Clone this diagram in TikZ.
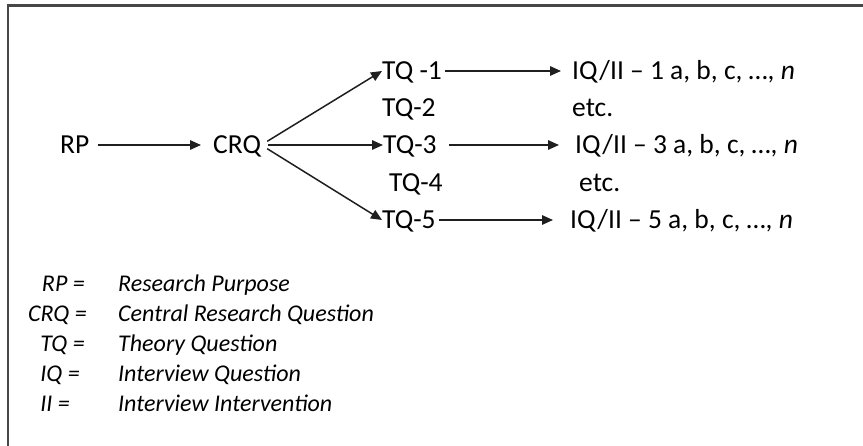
\documentclass[tikz,border=0pt]{standalone}
\usepackage{fontspec}
\setmainfont{Carlito}
\usetikzlibrary{arrows.meta}

\begin{document}
\begin{tikzpicture}[x=1pt,y=-1pt,
  lbl/.style={inner sep=0pt, text height=18pt, text depth=0pt, anchor=base west,
              font=\fontsize{27.5}{33}\selectfont},
  keyabbr/.style={inner sep=0pt, anchor=base east, font=\fontsize{24}{29}\selectfont\itshape},
  keydesc/.style={inner sep=0pt, anchor=base west, font=\fontsize{24}{29}\selectfont\itshape},
  arr/.style={draw=black!88, line width=1.5pt, -{Triangle[length=11pt,width=9.5pt]}},
  frame/.style={draw=black!72, line width=2.5pt}
]
\useasboundingbox (0,0) rectangle (863,446);

% partial frame
\draw[frame] (8,446) -- (8,5.5) -- (863,5.5);

% main chain
\node[lbl] (rp)  at (60,154)  {RP};
\node[lbl] (crq) at (213,154) {CRQ};

\node[lbl] (tq1) at (382,80)  {TQ -1};
\node[lbl] (tq2) at (382,117) {TQ-2};
\node[lbl] (tq3) at (383,154) {TQ-3};
\node[lbl] (tq4) at (389,192) {TQ-4};
\node[lbl] (tq5) at (382,229) {TQ-5};

\node[lbl] (iq1)  at (572,80)  {IQ/II -- 1 a, b, c, …, \textit{n}};
\node[lbl] (etc1) at (572,117) {etc.};
\node[lbl] (iq3)  at (575,154) {IQ/II -- 3 a, b, c, …, \textit{n}};
\node[lbl] (etc2) at (579,192) {etc.};
\node[lbl] (iq5)  at (570,229) {IQ/II -- 5 a, b, c, …, \textit{n}};

\draw[arr, shorten <=8pt, shorten >=12pt] (rp.east) -- (crq.west);

\draw[arr, shorten <=7pt] (crq.east) -- (tq1.west);
\draw[arr, shorten <=7pt] (crq.east) -- (tq3.west);
\draw[arr, shorten <=7pt] (crq.east) -- (tq5.west);

\draw[arr, shorten <=3pt,  shorten >=11pt] (tq1.east) -- (iq1.west);
\draw[arr, shorten <=12pt, shorten >=16pt] (tq3.east) -- (iq3.west);
\draw[arr, shorten <=3pt,  shorten >=17pt] (tq5.east) -- (iq5.west);

% legend
\node[keyabbr] (kRP)  at (85,292) {RP =};
\node[keyabbr] (kCRQ) at (87,322) {CRQ =};
\node[keyabbr] (kTQ)  at (85,352) {TQ =};
\node[keyabbr] (kIQ)  at (80,382) {IQ =};
\node[keyabbr] (kII)  at (70,412) {II =};

\node[keydesc] (dRP)  at (118,292) {Research Purpose};
\node[keydesc] (dCRQ) at (118,322) {Central Research Question};
\node[keydesc] (dTQ)  at (118,352) {Theory Question};
\node[keydesc] (dIQ)  at (118,382) {Interview Question};
\node[keydesc] (dII)  at (118,412) {Interview Intervention};
\end{tikzpicture}
\end{document}
